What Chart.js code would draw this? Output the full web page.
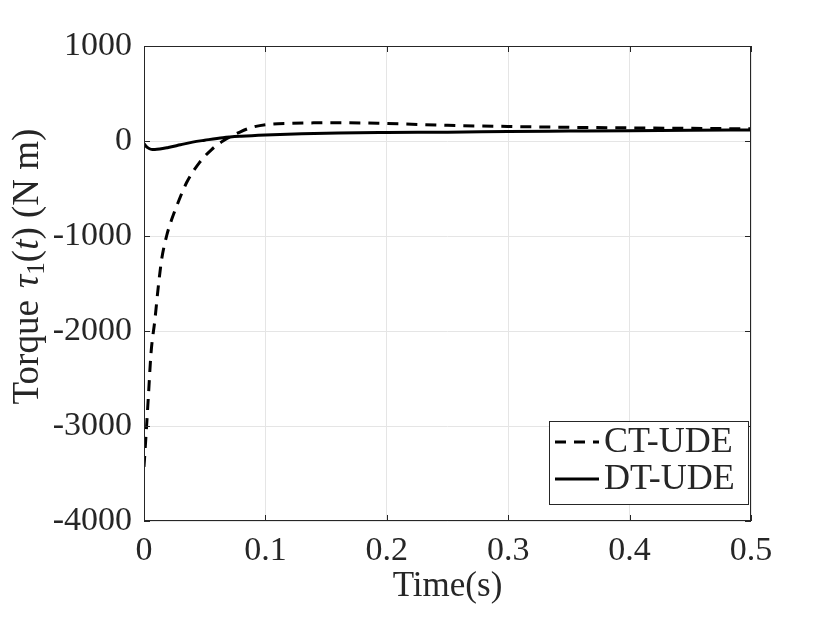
<!DOCTYPE html>
<html lang="en">

<head>
    <meta charset="UTF-8">
    <title>Torque tau1</title>
    <script src="https://cdn.jsdelivr.net/npm/chart.js"></script>
    <style>
        html, body { margin: 0; padding: 0; background: #fff; }
        #wrap { width: 830px; height: 623px; }
    </style>
</head>

<body>
    <div id="wrap"><canvas id="torque-chart"></canvas></div>
    <script>
        // values
        const timeCT = [0, 0.0016, 0.0036, 0.0058, 0.009, 0.0118, 0.0145, 0.0186, 0.0227, 0.028, 0.035, 0.0455,
            0.0557, 0.065, 0.079, 0.088, 0.1, 0.121, 0.14, 0.159, 0.2, 0.25, 0.3, 0.35, 0.4, 0.45, 0.5];
        const ctUde = [-3430, -3110, -2690, -2230, -1880, -1530, -1250, -1000, -830, -650, -440, -230,
            -90, 0, 94, 140, 172, 186, 191, 193, 184, 165, 153, 144, 138, 133, 128];

        const timeDT = [0, 0.003, 0.006, 0.009, 0.013, 0.02, 0.03, 0.04, 0.05, 0.065, 0.08, 0.1, 0.13, 0.16,
            0.2, 0.25, 0.3, 0.35, 0.4, 0.45, 0.5];
        const dtUde = [-30, -70, -88, -90, -85, -68, -40, -12, 8, 35, 50, 63, 76, 84, 89, 93, 99, 104, 109, 113, 116];

        const xTicks = [0, 0.1, 0.2, 0.3, 0.4, 0.5];
        const yTicks = [-4000, -3000, -2000, -1000, 0, 1000];

        const FONT = "'Liberation Serif', 'DejaVu Serif', serif";
        const INK = '#262626';

        const toPoints = (xs, ys) => xs.map((x, i) => ({ x: x, y: ys[i] }));

        // box, inward ticks, y title with italic parts, legend
        const matlabFrame = {
            id: 'matlabFrame',
            afterDraw(chart) {
                const { ctx, chartArea: a, scales } = chart;
                ctx.save();
                ctx.strokeStyle = INK;
                ctx.lineWidth = 1;
                ctx.strokeRect(a.left + 0.5, a.top + 0.5, a.right - a.left - 1, a.bottom - a.top - 1);
                const tl = 6;
                ctx.beginPath();
                xTicks.forEach(v => {
                    const px = Math.round(scales.x.getPixelForValue(v)) + 0.5;
                    ctx.moveTo(px, a.bottom); ctx.lineTo(px, a.bottom - tl);
                    ctx.moveTo(px, a.top); ctx.lineTo(px, a.top + tl);
                });
                yTicks.forEach(v => {
                    const py = Math.round(scales.y.getPixelForValue(v)) + 0.5;
                    ctx.moveTo(a.left, py); ctx.lineTo(a.left + tl, py);
                    ctx.moveTo(a.right, py); ctx.lineTo(a.right - tl, py);
                });
                ctx.stroke();

                // x title
                ctx.fillStyle = INK;
                ctx.font = '35px ' + FONT;
                ctx.textAlign = 'center';
                ctx.textBaseline = 'alphabetic';
                ctx.fillText('Time(s)', (a.left + a.right) / 2, 596);

                // y title: Torque τ1(t) (N m)
                const parts = [
                    ['Torque ', '', 0], ['τ', 'italic ', 0], ['1', 'sub', 0], ['(', '', 0],
                    ['t', 'italic ', 0], [') (N m)', '', 0]
                ];
                const fontFor = p => p[1] === 'sub' ? '25px ' + FONT : p[1] + '37px ' + FONT;
                let total = 0;
                parts.forEach(p => { ctx.font = fontFor(p); p[2] = ctx.measureText(p[0]).width; total += p[2]; });
                ctx.translate(38, 268);
                ctx.rotate(-Math.PI / 2);
                ctx.textAlign = 'left';
                let cx = -total / 2;
                parts.forEach(p => {
                    ctx.font = fontFor(p);
                    ctx.fillText(p[0], cx, p[1] === 'sub' ? 6 : 0);
                    cx += p[2] + (p[0] === 'Torque ' ? 3 : 0);
                });
                ctx.setTransform(1, 0, 0, 1, 0, 0);
                ctx.scale(chart.currentDevicePixelRatio, chart.currentDevicePixelRatio);

                // legend
                const lx = 549, ly = 421, lw = 199, lh = 83;
                ctx.fillStyle = '#fff';
                ctx.fillRect(lx, ly, lw, lh);
                ctx.strokeStyle = INK;
                ctx.lineWidth = 1;
                ctx.strokeRect(lx + 0.5, ly + 0.5, lw, lh);
                const rows = [442, 479];
                chart.data.datasets.forEach((ds, i) => {
                    ctx.beginPath();
                    ctx.lineWidth = ds.borderWidth;
                    ctx.strokeStyle = ds.borderColor;
                    ctx.setLineDash(ds.borderDash || []);
                    ctx.moveTo(555, rows[i]);
                    ctx.lineTo(599, rows[i]);
                    ctx.stroke();
                    ctx.setLineDash([]);
                    ctx.fillStyle = INK;
                    ctx.font = '36px ' + FONT;
                    ctx.textBaseline = 'middle';
                    ctx.fillText(ds.label, 604, rows[i] + 1);
                });
                ctx.restore();
            }
        };

        new Chart(document.getElementById('torque-chart'), {
            type: 'line',
            data: {
                datasets: [{
                    label: 'CT-UDE',
                    data: toPoints(timeCT, ctUde),
                    borderColor: '#000',
                    borderWidth: 3,
                    borderDash: [11, 8],
                    pointRadius: 0,
                    cubicInterpolationMode: 'monotone'
                }, {
                    label: 'DT-UDE',
                    data: toPoints(timeDT, dtUde),
                    borderColor: '#000',
                    borderWidth: 3,
                    pointRadius: 0,
                    cubicInterpolationMode: 'monotone'
                }]
            },
            options: {
                responsive: true,
                maintainAspectRatio: false,
                animation: false,
                layout: { padding: { top: 46, right: 79, left: 0, bottom: 0 } },
                plugins: {
                    legend: { display: false },
                    tooltip: { enabled: false }
                },
                scales: {
                    x: {
                        type: 'linear',
                        min: 0,
                        max: 0.5,
                        afterBuildTicks: s => { s.ticks = xTicks.map(v => ({ value: v })); },
                        afterFit: s => { s.height = 102; },
                        ticks: {
                            color: INK,
                            font: { family: FONT, size: 34 },
                            padding: 10,
                            maxRotation: 0,
                            callback: v => String(v)
                        },
                        grid: { color: '#e5e5e5', drawTicks: false },
                        border: { display: false }
                    },
                    y: {
                        min: -4000,
                        max: 1000,
                        afterBuildTicks: s => { s.ticks = yTicks.map(v => ({ value: v })); },
                        afterFit: s => { s.width = 144; },
                        ticks: {
                            color: INK,
                            font: { family: FONT, size: 34 },
                            padding: 12,
                            callback: v => String(v)
                        },
                        grid: { color: '#e5e5e5', drawTicks: false },
                        border: { display: false }
                    }
                }
            },
            plugins: [matlabFrame]
        });
    </script>
</body>

</html>
